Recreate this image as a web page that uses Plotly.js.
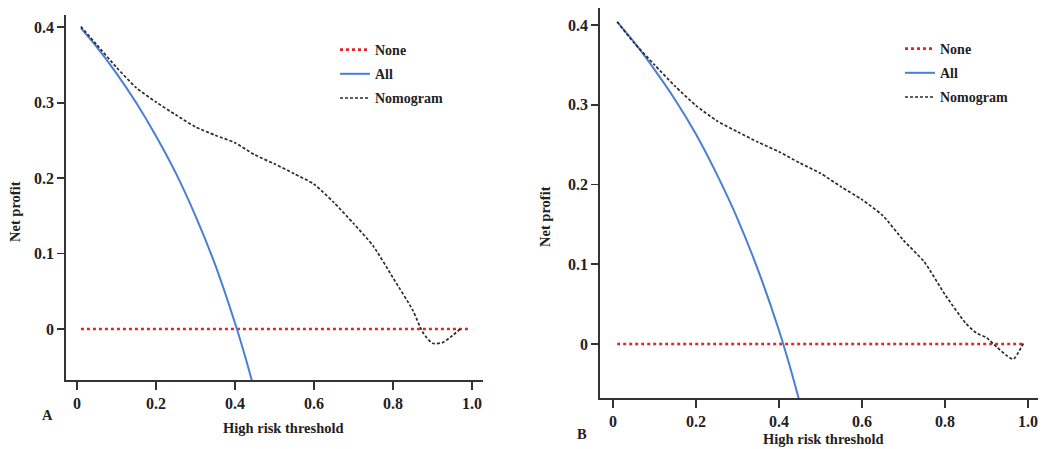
<!DOCTYPE html>
<html>
<head>
<meta charset="utf-8">
<script src="https://cdn.plot.ly/plotly-3.0.1.min.js"></script>
<style>html,body{margin:0;padding:0;background:#fff;}#chart{width:1049px;height:449px;}</style>
</head>
<body>
<div id="chart"></div>
<script>
// ---- data ----
const noneX = [0.01, 0.99];
const noneY = [0, 0];

const allX = [0.01, 0.05, 0.1, 0.15, 0.2, 0.25, 0.3, 0.35, 0.4, 0.425, 0.45];
const allA = [0.399, 0.374, 0.339, 0.300, 0.256, 0.207, 0.150, 0.085, 0.008, -0.035, -0.082];
const allB = [0.404, 0.379, 0.344, 0.306, 0.263, 0.213, 0.157, 0.092, 0.017, -0.026, -0.073];

const nomXA = [0.01,0.05,0.1,0.15,0.2,0.25,0.3,0.35,0.4,0.45,0.5,0.55,0.6,0.65,0.7,0.75,0.8,0.85,0.875,0.9,0.925,0.95,0.97];
const nomA  = [0.401,0.377,0.347,0.320,0.301,0.284,0.268,0.257,0.247,0.231,0.219,0.206,0.192,0.168,0.140,0.110,0.068,0.025,-0.004,-0.019,-0.018,-0.009,0.000];

const nomXB = [0.01,0.05,0.1,0.15,0.2,0.25,0.3,0.35,0.4,0.45,0.5,0.55,0.6,0.65,0.7,0.75,0.8,0.85,0.875,0.9,0.925,0.95,0.965,0.99];
const nomB  = [0.404,0.378,0.350,0.323,0.299,0.280,0.266,0.253,0.241,0.227,0.214,0.197,0.181,0.161,0.130,0.103,0.062,0.026,0.014,0.008,-0.004,-0.015,-0.019,0.002];

const xTickVals = [0, 0.2, 0.4, 0.6, 0.8, 1.0];
const xTickText = ['0', '0.2', '0.4', '0.6', '0.8', '1.0'];
const yTickVals = [0, 0.1, 0.2, 0.3, 0.4];
const yTickText = ['0', '0.1', '0.2', '0.3', '0.4'];

const seriesNames = ['None', 'All', 'Nomogram'];
const panelLabels = ['A', 'B'];
const xTitle = 'High risk threshold';
const yTitle = 'Net profit';

// ---- styling ----
const FONT = 'Liberation Serif, Times New Roman, serif';
const RED = '#e3242b', BLUE = '#4a7fd6', BLACK = '#2a2a2a';

function traces(allY, nomX, nomY, xa, ya, leg, p) {
  return [
    {x: noneX, y: noneY, name: seriesNames[0], mode: 'lines', xaxis: xa, yaxis: ya, legend: leg, legendgroup: p + '0',
     line: {color: RED, width: 2.6, dash: 'dot'}},
    {x: allX, y: allY, name: seriesNames[1], mode: 'lines', xaxis: xa, yaxis: ya, legend: leg, legendgroup: p + '1',
     line: {color: BLUE, width: 2, shape: 'spline', smoothing: 0.8}},
    {x: nomX, y: nomY, name: seriesNames[2], mode: 'lines', xaxis: xa, yaxis: ya, legend: leg, legendgroup: p + '2',
     line: {color: BLACK, width: 1.7, dash: '3px,2px', shape: 'spline', smoothing: 0.6}}
  ];
}

const data = [].concat(
  traces(allA, nomXA, nomA, 'x', 'y', 'legend', 'A'),
  traces(allB, nomXB, nomB, 'x2', 'y2', 'legend2', 'B')
);

const tickFont = {family: FONT, size: 16, color: '#222', weight: 'bold'};
const titleFont = {family: FONT, size: 14.5, color: '#222', weight: 'bold'};

function xaxis(domain, range, anchor) {
  return {domain: domain, range: range, anchor: anchor, showgrid: false, zeroline: false,
    showline: true, linecolor: '#333', linewidth: 1.8, ticks: 'outside', ticklen: 8, tickwidth: 1.8,
    tickcolor: '#333', tickvals: xTickVals, ticktext: xTickText, tickfont: tickFont};
}
function yaxis(domain, range, anchor) {
  return {domain: domain, range: range, anchor: anchor, showgrid: false, zeroline: false,
    showline: true, linecolor: '#333', linewidth: 1.8, ticks: 'outside', ticklen: 7, tickwidth: 1.8,
    tickcolor: '#333', tickvals: yTickVals, ticktext: yTickText, tickfont: tickFont};
}

const legendStyle = {font: {family: FONT, size: 14, color: '#222', weight: 'bold'},
  bgcolor: 'rgba(0,0,0,0)', itemwidth: 30, traceorder: 'grouped', tracegroupgap: 3,
  xanchor: 'left', yanchor: 'top'};

function ann(text, x, y, rot) {
  return {text: text, x: x / 1049, y: 1 - y / 449, xref: 'paper', yref: 'paper', showarrow: false,
    xanchor: 'center', yanchor: 'middle', textangle: rot || 0, font: titleFont};
}

const layout = {
  width: 1049, height: 449,
  margin: {l: 0, r: 0, t: 0, b: 0},
  paper_bgcolor: '#fff', plot_bgcolor: '#fff',
  showlegend: true,
  xaxis: xaxis([0.0629, 0.4604], [-0.0278, 1.0278], 'y'),
  yaxis: yaxis([0.1537, 0.9666], [-0.0676, 0.4164], 'x'),
  xaxis2: xaxis([0.5720, 0.9895], [-0.0313, 1.0241], 'y2'),
  yaxis2: yaxis([0.1136, 0.9822], [-0.0677, 0.4213], 'x2'),
  legend: Object.assign({x: 335/1049, y: 1 - 34/449}, legendStyle),
  legend2: Object.assign({x: 900/1049, y: 1 - 33/449}, legendStyle),
  annotations: [
    ann(panelLabels[0], 47, 415),
    ann(panelLabels[1], 582, 434),
    ann(xTitle, 283, 428),
    ann(xTitle, 823, 439),
    ann(yTitle, 15, 212, -90),
    ann(yTitle, 545, 217, -90)
  ]
};

Plotly.newPlot('chart', data, layout, {displayModeBar: false, staticPlot: true});
</script>
</body>
</html>
